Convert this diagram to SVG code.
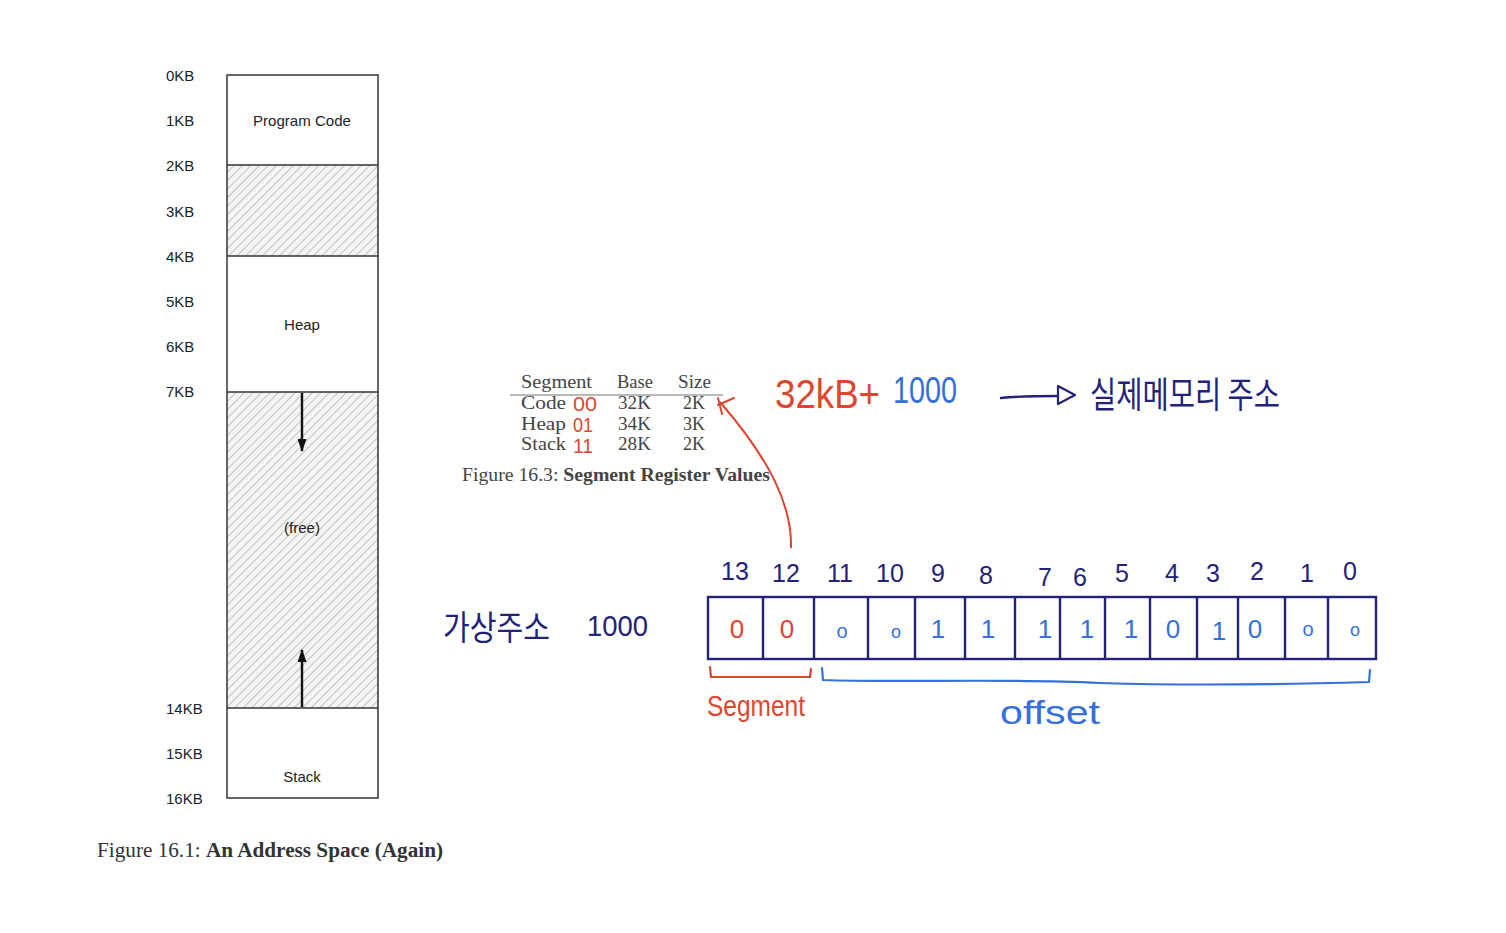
<svg xmlns="http://www.w3.org/2000/svg" width="1506" height="933" viewBox="0 0 1506 933">
<defs>
<pattern id="hatch" patternUnits="userSpaceOnUse" width="6" height="6" patternTransform="rotate(45)">
<rect width="6" height="6" fill="#f4f4f4"/>
<line x1="0" y1="0" x2="0" y2="6" stroke="#b5b5b5" stroke-width="1.6"/>
</pattern>
<marker id="blk" markerWidth="13" markerHeight="9" refX="12" refY="4.5" orient="auto" markerUnits="userSpaceOnUse">
<path d="M0,0 L13,4.5 L0,9 z" fill="#111"/>
</marker>
</defs>
<style>
.lbl{font-family:"Liberation Sans",Arial,sans-serif;font-size:15px;fill:#222}
.tbl{font-family:"Liberation Serif","Times New Roman",serif;font-size:18px;fill:#444}
.cap{font-family:"Liberation Serif","Times New Roman",serif;font-size:20px;fill:#333}
.hw{font-family:"Liberation Sans",Arial,sans-serif;font-weight:normal}
.red{fill:#e0452e}
.blue{fill:#3570dc}
.navy{fill:#22227a}
.kr{font-family:"Noto Sans CJK KR",sans-serif}
.cell{fill:none;stroke:#22227a;stroke-width:2.4}
</style>
<rect width="1506" height="933" fill="#fff"/>

<g id="address-space">
<rect x="227" y="165" width="151" height="91" fill="url(#hatch)"/>
<rect x="227" y="392" width="151" height="316" fill="url(#hatch)"/>
<rect x="227" y="75" width="151" height="723" fill="none" stroke="#333" stroke-width="1.5"/>
<line x1="227" y1="165" x2="378" y2="165" stroke="#333" stroke-width="1.5"/>
<line x1="227" y1="256" x2="378" y2="256" stroke="#333" stroke-width="1.5"/>
<line x1="227" y1="392" x2="378" y2="392" stroke="#333" stroke-width="1.5"/>
<line x1="227" y1="708" x2="378" y2="708" stroke="#333" stroke-width="1.5"/>
<text class="lbl" x="302" y="126" text-anchor="middle" textLength="98" lengthAdjust="spacingAndGlyphs">Program Code</text>
<text class="lbl" x="302" y="330" text-anchor="middle">Heap</text>
<text class="lbl" x="302" y="533" text-anchor="middle">(free)</text>
<text class="lbl" x="302" y="782" text-anchor="middle">Stack</text>
<text class="lbl" x="166" y="81">0KB</text>
<text class="lbl" x="166" y="126">1KB</text>
<text class="lbl" x="166" y="171">2KB</text>
<text class="lbl" x="166" y="217">3KB</text>
<text class="lbl" x="166" y="262">4KB</text>
<text class="lbl" x="166" y="307">5KB</text>
<text class="lbl" x="166" y="352">6KB</text>
<text class="lbl" x="166" y="397">7KB</text>
<text class="lbl" x="166" y="714">14KB</text>
<text class="lbl" x="166" y="759">15KB</text>
<text class="lbl" x="166" y="804">16KB</text>
<text class="cap" x="97" y="857" textLength="346" lengthAdjust="spacingAndGlyphs">Figure 16.1: <tspan font-weight="bold">An Address Space (Again)</tspan></text>
</g>

<g id="connectors">
<line x1="302" y1="393" x2="302" y2="451" stroke="#111" stroke-width="2.4" marker-end="url(#blk)"/>
<line x1="302" y1="707" x2="302" y2="650" stroke="#111" stroke-width="2.4" marker-end="url(#blk)"/>
<path d="M791,548 C792,505 770,460 720,402" fill="none" stroke="#e0452e" stroke-width="2"/>
<path d="M718,398 L722,414 M718,405 L734,398" fill="none" stroke="#e0452e" stroke-width="2" stroke-linecap="round"/>
<path d="M1001,398 C1020,396 1040,396 1058,396" fill="none" stroke="#22227a" stroke-width="2.4" stroke-linecap="round"/>
<path d="M1058,386 L1075,395 L1058,404 z" fill="none" stroke="#22227a" stroke-width="2.2" stroke-linejoin="round"/>
<path d="M710,667 L711,677 L810,677 L811,669" fill="none" stroke="#e0452e" stroke-width="2.2" stroke-linecap="round"/>
<path d="M822,668 L823,680 C900,683 1000,678 1100,683 C1200,686 1300,684 1369,682 L1370,670" fill="none" stroke="#3570dc" stroke-width="2.2" stroke-linecap="round"/>
</g>

<g id="segment-table">
<text class="tbl" x="521" y="388" textLength="71" lengthAdjust="spacingAndGlyphs">Segment</text>
<text class="tbl" x="617" y="388" textLength="36" lengthAdjust="spacingAndGlyphs">Base</text>
<text class="tbl" x="678" y="388" textLength="33" lengthAdjust="spacingAndGlyphs">Size</text>
<line x1="510" y1="395" x2="723" y2="395" stroke="#777" stroke-width="1.2"/>
<text class="tbl" x="521" y="409" textLength="45" lengthAdjust="spacingAndGlyphs">Code</text>
<text class="tbl" x="521" y="430" textLength="45" lengthAdjust="spacingAndGlyphs">Heap</text>
<text class="tbl" x="521" y="450" textLength="45" lengthAdjust="spacingAndGlyphs">Stack</text>
<text class="tbl" x="618" y="409" textLength="33" lengthAdjust="spacingAndGlyphs">32K</text>
<text class="tbl" x="618" y="430" textLength="33" lengthAdjust="spacingAndGlyphs">34K</text>
<text class="tbl" x="618" y="450" textLength="33" lengthAdjust="spacingAndGlyphs">28K</text>
<text class="tbl" x="683" y="409">2K</text>
<text class="tbl" x="683" y="430">3K</text>
<text class="tbl" x="683" y="450">2K</text>
<text class="hw red" x="573" y="411" font-size="21" textLength="24" lengthAdjust="spacingAndGlyphs">00</text>
<text class="hw red" x="573" y="432" font-size="21" textLength="20" lengthAdjust="spacingAndGlyphs">01</text>
<text class="hw red" x="573" y="453" font-size="21" textLength="20" lengthAdjust="spacingAndGlyphs">11</text>
<text class="tbl" x="462" y="481" textLength="308" lengthAdjust="spacingAndGlyphs">Figure 16.3: <tspan font-weight="bold">Segment Register Values</tspan></text>
</g>

<g id="physical-address">
<text class="hw red" x="775" y="408" font-size="40" textLength="105" lengthAdjust="spacingAndGlyphs">32kB+</text>
<text class="hw blue" x="893" y="403" font-size="36" textLength="64" lengthAdjust="spacingAndGlyphs">1000</text>
<text class="kr navy" x="1090" y="408" font-size="36" textLength="190" lengthAdjust="spacingAndGlyphs">실제메모리 주소</text>
</g>

<g id="virtual-address">
<text class="kr navy" x="443" y="640" font-size="34" textLength="107" lengthAdjust="spacingAndGlyphs">가상주소</text>
<text class="hw navy" x="587" y="636" font-size="30" textLength="61" lengthAdjust="spacingAndGlyphs">1000</text>
</g>

<g id="bit-box">
<rect class="cell" x="708" y="597" width="668" height="62"/>
<path class="cell" d="M763,597V659 M814,597V659 M868,597V659 M915,597V659 M965,597V659 M1015,597V659 M1060,597V659 M1105,597V659 M1150,597V659 M1197,597V659 M1238,597V659 M1285,597V659 M1328,597V659"/>
<g class="hw navy" font-size="25" text-anchor="middle">
<text x="735" y="580">13</text>
<text x="786" y="582">12</text>
<text x="840" y="582">11</text>
<text x="890" y="582">10</text>
<text x="938" y="582">9</text>
<text x="986" y="584">8</text>
<text x="1045" y="586">7</text>
<text x="1080" y="586">6</text>
<text x="1122" y="582">5</text>
<text x="1172" y="582">4</text>
<text x="1213" y="582">3</text>
<text x="1257" y="580">2</text>
<text x="1307" y="582">1</text>
<text x="1350" y="580">0</text>
</g>
<g class="hw" font-size="26" text-anchor="middle">
<text class="red" x="737" y="638">0</text>
<text class="red" x="787" y="638">0</text>
<text class="blue" x="842" y="638" font-size="20">o</text>
<text class="blue" x="896" y="638" font-size="18">o</text>
<text class="blue" x="938" y="638">1</text>
<text class="blue" x="988" y="638">1</text>
<text class="blue" x="1045" y="638">1</text>
<text class="blue" x="1087" y="638">1</text>
<text class="blue" x="1131" y="638">1</text>
<text class="blue" x="1173" y="638">0</text>
<text class="blue" x="1219" y="640">1</text>
<text class="blue" x="1255" y="638">0</text>
<text class="blue" x="1308" y="636" font-size="20">o</text>
<text class="blue" x="1355" y="636" font-size="18">o</text>
</g>
<text class="hw red" x="707" y="716" font-size="30" textLength="98" lengthAdjust="spacingAndGlyphs">Segment</text>
<text class="hw blue" x="1000" y="724" font-size="34" textLength="100" lengthAdjust="spacingAndGlyphs">offset</text>
</g>
</svg>
